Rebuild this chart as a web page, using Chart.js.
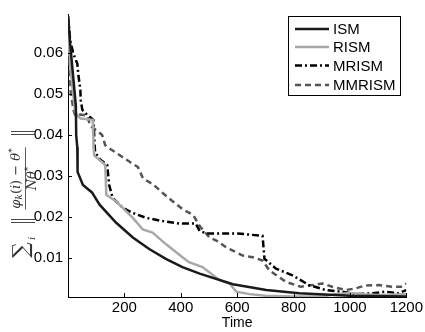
<!DOCTYPE html>
<html>
<head>
<meta charset="utf-8">
<script src="https://cdn.jsdelivr.net/npm/chart.js@4/dist/chart.umd.min.js"></script>
<style>
  html, body { margin: 0; padding: 0; background: #fff; }
</style>
</head>
<body>
<canvas id="myChart" width="425" height="332"></canvas>
<script>
// values (time, error)
const ismTime = [0, 8, 16, 24, 28, 29, 33, 34, 53, 85, 112, 171, 230, 288, 347, 406, 467, 585, 703, 820, 1000, 1200];
const ismVal  = [0.069, 0.062, 0.056, 0.050, 0.047, 0.040, 0.037, 0.031, 0.0278, 0.026, 0.023, 0.0186, 0.015, 0.0122, 0.0098, 0.0078, 0.0062, 0.0036, 0.0022, 0.0014, 0.0008, 0.0006];

const rismTime = [0, 8, 15, 25, 30, 45, 88, 91, 93, 132, 136, 171, 230, 265, 300, 347, 406, 429, 477, 538, 573, 597, 644, 700, 800, 900, 950, 1000, 1050, 1100, 1200];
const rismVal  = [0.066, 0.057, 0.052, 0.046, 0.045, 0.044, 0.0437, 0.0366, 0.035, 0.0327, 0.0254, 0.0238, 0.0198, 0.017, 0.0162, 0.0134, 0.0102, 0.009, 0.0078, 0.0046, 0.0038, 0.0018, 0.0012, 0.0008, 0.0006, 0.0006, 0.0012, 0.0015, 0.0012, 0.001, 0.0012];

const mrismTime = [0, 8, 19, 33, 37, 44, 45, 51, 68, 90, 96, 114, 139, 146, 159, 195, 230, 277, 336, 394, 453, 467, 492, 600, 690, 697, 738, 796, 855, 914, 973, 1020, 1078, 1126, 1173, 1200];
const mrismVal  = [0.069, 0.063, 0.0598, 0.0574, 0.0545, 0.0509, 0.0485, 0.0461, 0.0449, 0.0437, 0.0358, 0.034, 0.0327, 0.0278, 0.0246, 0.0222, 0.021, 0.0198, 0.019, 0.0184, 0.0184, 0.0166, 0.016, 0.016, 0.0154, 0.0098, 0.0074, 0.0058, 0.0034, 0.0022, 0.0018, 0.0012, 0.0014, 0.0018, 0.0014, 0.0022];

const mmrismTime = [0, 5, 10, 20, 26, 44, 68, 79, 104, 121, 132, 150, 185, 220, 248, 266, 301, 337, 372, 408, 444, 467, 502, 528, 561, 620, 655, 690, 714, 773, 825, 867, 902, 937, 985, 1020, 1055, 1102, 1149, 1185, 1200];
const mmrismVal  = [0.068, 0.058, 0.050, 0.046, 0.0447, 0.045, 0.0447, 0.0422, 0.041, 0.040, 0.0375, 0.0366, 0.035, 0.0334, 0.0322, 0.0294, 0.028, 0.0258, 0.0238, 0.0218, 0.0205, 0.0178, 0.015, 0.0142, 0.0126, 0.0106, 0.0102, 0.0094, 0.007, 0.0042, 0.003, 0.0034, 0.0038, 0.003, 0.0022, 0.0026, 0.0033, 0.0034, 0.003, 0.003, 0.0038];

const seriesNames = ['ISM', 'RISM', 'MRISM', 'MMRISM'];
const xTicks = [200, 400, 600, 800, 1000, 1200];
const yTicks = [0.01, 0.02, 0.03, 0.04, 0.05, 0.06];

const FONT = '"Liberation Sans", Arial, Helvetica, sans-serif';
const SERIF = '"DejaVu Serif", "Liberation Serif", serif';

const pts = (t, v) => t.map((x, i) => ({ x: x, y: v[i] }));

const styles = [
  { color: '#1a1a1a', dash: [] },
  { color: '#a8a8a8', dash: [] },
  { color: '#000000', dash: [7, 3, 2, 3] },
  { color: '#555555', dash: [6, 4] }
];
const data = [pts(ismTime, ismVal), pts(rismTime, rismVal), pts(mrismTime, mrismVal), pts(mmrismTime, mmrismVal)];

// inward tick marks, like the original axes
const innerTicks = {
  id: 'innerTicks',
  afterDraw(chart) {
    const c = chart.ctx, a = chart.chartArea;
    const xs = chart.scales.x, ys = chart.scales.y;
    c.save();
    c.strokeStyle = '#000';
    c.lineWidth = 1;
    c.beginPath();
    xTicks.forEach(v => { const p = Math.round(xs.getPixelForValue(v)) + 0.5; c.moveTo(p, a.bottom); c.lineTo(p, a.bottom - 4); });
    yTicks.forEach(v => { const p = Math.round(ys.getPixelForValue(v)) + 0.5; c.moveTo(a.left, p); c.lineTo(a.left + 4, p); });
    c.stroke();
    c.restore();
  }
};

// boxed legend in the top right corner
const boxLegend = {
  id: 'boxLegend',
  afterDraw(chart) {
    const c = chart.ctx;
    const bx = 288.5, by = 16.5, bw = 112, bh = 79;
    c.save();
    c.fillStyle = '#fff';
    c.fillRect(bx, by, bw, bh);
    c.strokeStyle = '#000';
    c.lineWidth = 1;
    c.strokeRect(bx, by, bw, bh);
    c.font = '15px ' + FONT;
    c.textBaseline = 'middle';
    const rows = [29, 47, 65.5, 85];
    seriesNames.forEach((name, i) => {
      c.beginPath();
      c.setLineDash(styles[i].dash);
      c.strokeStyle = styles[i].color;
      c.lineWidth = 2.5;
      c.moveTo(295, rows[i]);
      c.lineTo(329, rows[i]);
      c.stroke();
      c.setLineDash([]);
      c.fillStyle = '#000';
      c.fillText(name, 333, rows[i] + 1);
    });
    c.restore();
  }
};

function run(c, parts, x, y) {
  parts.forEach(p => { c.font = p[1]; c.fillText(p[0], x, y + p[2]); x += c.measureText(p[0]).width; });
  return x;
}
function runWidth(c, parts) {
  let w = 0;
  parts.forEach(p => { c.font = p[1]; w += c.measureText(p[0]).width; });
  return w;
}
function normBars(c, x) {
  c.fillRect(x, -11, 0.9, 24);
  c.fillRect(x + 3, -11, 0.9, 24);
}

// y axis label: sum_i || (phi_k(i) - theta*) / (N theta*) ||
const yTitle = {
  id: 'yTitle',
  afterDraw(chart) {
    const c = chart.ctx;
    c.save();
    c.translate(22, 192);
    c.rotate(-Math.PI / 2);
    c.fillStyle = '#333';
    c.textBaseline = 'middle';
    c.textAlign = 'left';
    c.font = '22px ' + SERIF;
    c.fillText('∑', -66, 0);
    c.font = 'italic 10px ' + SERIF;
    c.fillText('i', -48, 10);
    normBars(c, -31);
    const f = 13;
    const num = [['φ', 'italic ' + f + 'px ' + SERIF, 0], ['k', 'italic 9px ' + SERIF, 3], ['(', f + 'px ' + SERIF, 0], ['i', 'italic ' + f + 'px ' + SERIF, 0], [')', f + 'px ' + SERIF, 0], [' − ', f + 'px ' + SERIF, 0], ['θ', 'italic ' + f + 'px ' + SERIF, 0], ['*', '9px ' + SERIF, -4]];
    const den = [['N', 'italic ' + f + 'px ' + SERIF, 0], ['θ', 'italic ' + f + 'px ' + SERIF, 0], ['*', '9px ' + SERIF, -4]];
    const x0 = -23, x1 = 50;
    const nw = runWidth(c, num), dw = runWidth(c, den);
    run(c, num, (x0 + x1 - nw) / 2, -5);
    run(c, den, (x0 + x1 - dw) / 2, 11);
    c.fillRect((x0 + x1 - nw) / 2 - 1, 3, nw + 2, 0.8);
    normBars(c, 57);
    c.restore();
  }
};

new Chart(document.getElementById('myChart').getContext('2d'), {
  type: 'line',
  data: {
    datasets: seriesNames.map((name, i) => ({
      label: name,
      data: data[i],
      borderColor: styles[i].color,
      borderDash: styles[i].dash,
      borderWidth: 2.5,
      pointRadius: 0,
      tension: 0,
      fill: false
    }))
  },
  options: {
    responsive: false,
    animation: false,
    devicePixelRatio: 1,
    layout: { padding: { top: 10, right: 17, left: 0, bottom: 0 } },
    plugins: { legend: { display: false }, tooltip: { enabled: false } },
    scales: {
      x: {
        type: 'linear', min: 0, max: 1200,
        grid: { display: false, drawTicks: false },
        border: { display: true, color: '#000', width: 1 },
        afterBuildTicks: s => { s.ticks = xTicks.map(v => ({ value: v })); },
        ticks: { color: '#000', font: { family: FONT, size: 15 }, padding: 2, maxRotation: 0, callback: v => String(v) },
        title: { display: true, text: 'Time', color: '#000', font: { family: FONT, size: 14 }, padding: { top: -2, bottom: 0 } },
        afterFit: s => { s.height = 35; }
      },
      y: {
        type: 'linear', min: 0.0005, max: 0.0695,
        grid: { display: false, drawTicks: false },
        border: { display: true, color: '#000', width: 1 },
        afterBuildTicks: s => { s.ticks = yTicks.map(v => ({ value: v })); },
        ticks: { color: '#000', font: { family: FONT, size: 15 }, padding: 5, callback: v => v.toFixed(2) },
        afterFit: s => { s.width = 68; }
      }
    }
  },
  plugins: [innerTicks, boxLegend, yTitle]
});
</script>
</body>
</html>
